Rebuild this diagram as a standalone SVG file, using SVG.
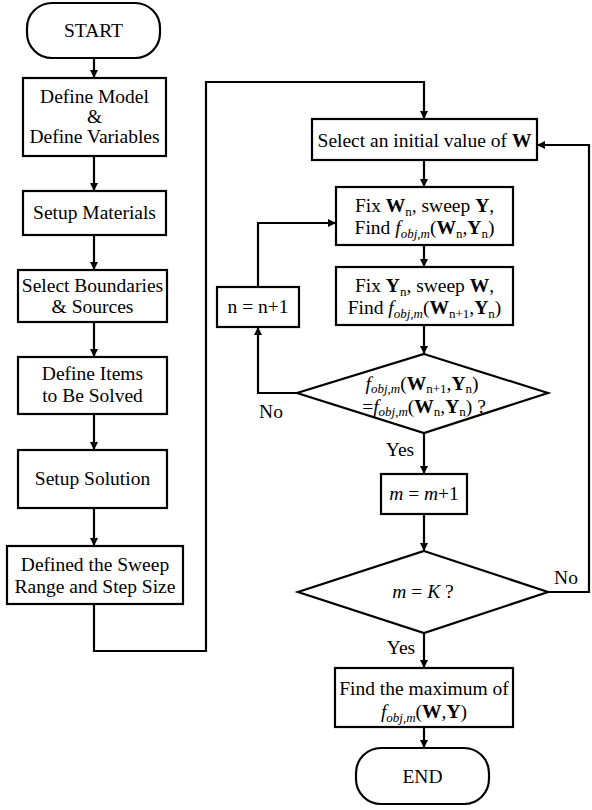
<svg xmlns="http://www.w3.org/2000/svg" width="592" height="810" viewBox="0 0 592 810">
<style>
text{font-family:"Liberation Serif","Times New Roman",serif;font-size:19.5px;fill:#000;text-anchor:middle}
.s{fill:#fff;stroke:#000;stroke-width:2.2}
.c{fill:none;stroke:#000;stroke-width:2.2}
.b{font-weight:bold}
.i{font-style:italic}
.sub{font-size:13px}
.isub{font-size:13px;font-style:italic}
</style>
<defs>
<marker id="ah" viewBox="0 0 10 10" refX="10" refY="5" markerWidth="9" markerHeight="8" markerUnits="userSpaceOnUse" orient="auto">
<path d="M0,0 L10,5 L0,10 z" fill="#000"/>
</marker>
</defs>
<g id="connectors">
<path class="c" d="M94,58 V78" marker-end="url(#ah)"/>
<path class="c" d="M94,156 V191" marker-end="url(#ah)"/>
<path class="c" d="M94,235 V270" marker-end="url(#ah)"/>
<path class="c" d="M94,322 V357" marker-end="url(#ah)"/>
<path class="c" d="M94,414 V450" marker-end="url(#ah)"/>
<path class="c" d="M94,508 V546" marker-end="url(#ah)"/>
<path class="c" d="M94,604 V651 H206 V82 H424 V119" marker-end="url(#ah)"/>
<path class="c" d="M424,160 V187" marker-end="url(#ah)"/>
<path class="c" d="M424,245 V267" marker-end="url(#ah)"/>
<path class="c" d="M424,325 V354" marker-end="url(#ah)"/>
<path class="c" d="M297,393 H258 V327" marker-end="url(#ah)"/>
<path class="c" d="M258,287 V223 H336" marker-end="url(#ah)"/>
<path class="c" d="M424,433 V474" marker-end="url(#ah)"/>
<path class="c" d="M424,514 V551" marker-end="url(#ah)"/>
<path class="c" d="M548,592 H589 V145 H537" marker-end="url(#ah)"/>
<path class="c" d="M424,633 V668" marker-end="url(#ah)"/>
<path class="c" d="M424,727 V748" marker-end="url(#ah)"/>
<text x="271" y="418">No</text>
<text x="400" y="456">Yes</text>
<text x="566" y="584">No</text>
<text x="401" y="654">Yes</text>
</g>
<g id="start">
<rect class="s" x="27" y="3" width="133" height="55" rx="25"/>
<text x="93.5" y="37">START</text>
</g>
<g id="define-model">
<rect class="s" x="23" y="78" width="143" height="78"/>
<text x="94.5" y="103">Define Model</text>
<text x="94.5" y="123">&amp;</text>
<text x="94.5" y="143">Define Variables</text>
</g>
<g id="setup-materials">
<rect class="s" x="23" y="191" width="143" height="44"/>
<text x="94.5" y="219">Setup Materials</text>
</g>
<g id="select-boundaries">
<rect class="s" x="18" y="270" width="149" height="52"/>
<text x="92.5" y="292">Select Boundaries</text>
<text x="92.5" y="313">&amp; Sources</text>
</g>
<g id="define-items">
<rect class="s" x="18" y="357" width="149" height="57"/>
<text x="92.5" y="380">Define Items</text>
<text x="92.5" y="402">to Be Solved</text>
</g>
<g id="setup-solution">
<rect class="s" x="18" y="450" width="149" height="58"/>
<text x="92.5" y="485">Setup Solution</text>
</g>
<g id="sweep-range">
<rect class="s" x="7" y="546" width="176" height="58"/>
<text x="95" y="571">Defined the Sweep</text>
<text x="95" y="593">Range and Step Size</text>
</g>
<g id="select-initial">
<rect class="s" x="312" y="119" width="225" height="41"/>
<text x="424.5" y="147">Select an initial value of <tspan class="b">W</tspan></text>
</g>
<g id="fix-w">
<rect class="s" x="336" y="187" width="177" height="58"/>
<text x="424.5" y="212">Fix <tspan class="b">W</tspan><tspan class="sub" dy="4">n</tspan><tspan dy="-4">, sweep </tspan><tspan class="b">Y</tspan>,</text>
<text x="424.5" y="234">Find <tspan class="i">f</tspan><tspan class="isub" dy="4">obj,m</tspan><tspan dy="-4">(</tspan><tspan class="b">W</tspan><tspan class="sub" dy="4">n</tspan><tspan dy="-4">,</tspan><tspan class="b">Y</tspan><tspan class="sub" dy="4">n</tspan><tspan dy="-4">)</tspan></text>
</g>
<g id="fix-y">
<rect class="s" x="336" y="267" width="177" height="58"/>
<text x="424.5" y="292">Fix <tspan class="b">Y</tspan><tspan class="sub" dy="4">n</tspan><tspan dy="-4">, sweep </tspan><tspan class="b">W</tspan>,</text>
<text x="424.5" y="314">Find <tspan class="i">f</tspan><tspan class="isub" dy="4">obj,m</tspan><tspan dy="-4">(</tspan><tspan class="b">W</tspan><tspan class="sub" dy="4">n+1</tspan><tspan dy="-4">,</tspan><tspan class="b">Y</tspan><tspan class="sub" dy="4">n</tspan><tspan dy="-4">)</tspan></text>
</g>
<g id="n-increment">
<rect class="s" x="217" y="287" width="82" height="40"/>
<text x="258" y="313">n = n+1</text>
</g>
<g id="converged">
<polygon class="s" points="424,354 548,393 424,433 297,393"/>
<text x="422" y="390"><tspan class="i">f</tspan><tspan class="isub" dy="3">obj,m</tspan><tspan dy="-3">(</tspan><tspan class="b">W</tspan><tspan class="sub" dy="3">n+1</tspan><tspan dy="-3">,</tspan><tspan class="b">Y</tspan><tspan class="sub" dy="3">n</tspan><tspan dy="-3">)</tspan></text>
<text x="424" y="413">=<tspan class="i">f</tspan><tspan class="isub" dy="3">obj,m</tspan><tspan dy="-3">(</tspan><tspan class="b">W</tspan><tspan class="sub" dy="3">n</tspan><tspan dy="-3">,</tspan><tspan class="b">Y</tspan><tspan class="sub" dy="3">n</tspan><tspan dy="-3">) ?</tspan></text>
</g>
<g id="m-increment">
<rect class="s" x="381" y="474" width="86" height="40"/>
<text x="424" y="500"><tspan class="i">m</tspan> = <tspan class="i">m</tspan>+1</text>
</g>
<g id="m-equals-k">
<polygon class="s" points="424,551 548,592 424,633 298,592"/>
<text x="423" y="598"><tspan class="i">m</tspan> = <tspan class="i">K</tspan> ?</text>
</g>
<g id="find-max">
<rect class="s" x="335" y="668" width="178" height="59"/>
<text x="424" y="695">Find the maximum of</text>
<text x="424" y="718"><tspan class="i">f</tspan><tspan class="isub" dy="4">obj,m</tspan><tspan dy="-4">(</tspan><tspan class="b">W</tspan>,<tspan class="b">Y</tspan>)</text>
</g>
<g id="end">
<rect class="s" x="356" y="748" width="133" height="56" rx="25"/>
<text x="422.5" y="783">END</text>
</g>
</svg>
